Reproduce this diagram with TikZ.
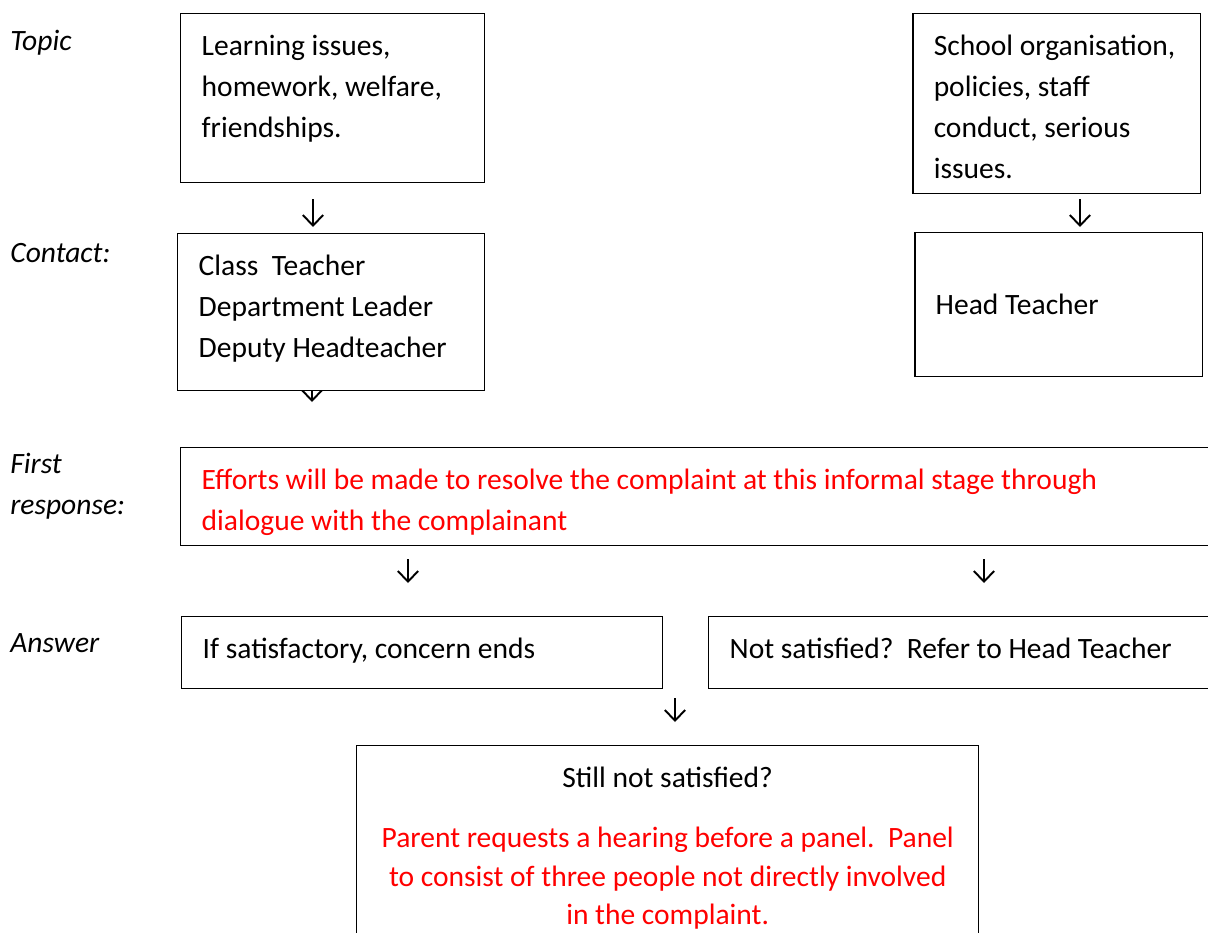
\documentclass[tikz,border=0pt]{standalone}
\usepackage{fontspec}
\setmainfont{Carlito}
\usetikzlibrary{arrows.meta}
\definecolor{stagered}{RGB}{255,0,0}
\newcommand{\bodyfont}{\fontsize{16.8pt}{23.3pt}\selectfont}
\newcommand{\cell}[3]{\parbox[c][#2][t]{#1}{\rule{0pt}{18pt}#3}}
\tikzset{%
	block/.style = {draw, fill=white, line width=0.85pt, anchor=north west,
		inner xsep=0.42cm, inner ysep=0.2cm, font=\bodyfont},
	tag/.style   = {anchor=base west, inner sep=0pt, font=\bodyfont\itshape}, % Row label
	down/.style  = {line width=1.1pt, -{Straight Barb[length=6pt,width=11.5pt]}} % Arrow glyph
}

\begin{document}
\begin{tikzpicture}[x=0.02cm, y=-0.02cm]
			\clip (0,0) rectangle (1208,933);
			% arrows, drawn first so that the boxes cover them
			\coordinate (l1) at (313,199); \coordinate (l2) at (313,227);
			\coordinate (s1) at (1080,199); \coordinate (s2) at (1080,227);
			\coordinate (c1) at (312,374); \coordinate (c2) at (312,402);
			\coordinate (r1) at (408,559); \coordinate (r2) at (408,583);
			\coordinate (q1) at (984,559); \coordinate (q2) at (984,583);
			\coordinate (p1) at (675,698); \coordinate (p2) at (675,722);
			\draw[down] (l1) -- (l2);
			\draw[down] (s1) -- (s2);
			\draw[down] (c1) -- (c2);
			\draw[down] (r1) -- (r2);
			\draw[down] (q1) -- (q2);
			\draw[down] (p1) -- (p2);
			
			\node[tag] (topic) at (10,51) {Topic};
			\node[block] (learn) at (180,13) {\cell{5.24cm}{2.98cm}{Learning issues,\\homework, welfare,\\friendships.}};
			\node[block] (school) at (912,13) {\cell{4.92cm}{3.2cm}{School organisation,\\policies, staff\\conduct, serious\\issues.}};
			
			\node[tag] (contact) at (10,262) {Contact:};
			\node[block] (staff) at (177,233) {\cell{5.30cm}{2.74cm}{Class\ \ Teacher\\Department Leader\\Deputy Headteacher}};
			\node[block] (head) at (914,232) {\parbox[c][2.48cm][c]{4.92cm}{Head Teacher}};
			
			\node[tag, align=left, anchor=north west] (first) at (10,453) {First\\response:};
			\node[block] (resolve) at (180,447) {\cell{20.16cm}{1.56cm}{\color{stagered}Efforts will be made to resolve the complaint at this informal stage through\\dialogue with the complainant}};
			
			\node[tag] (answer) at (10,652) {Answer};
			\node[block] (ends) at (181,616) {\cell{8.78cm}{1.04cm}{If satisfactory, concern ends}};
			\node[block] (refer) at (708,616) {\cell{9.6cm}{1.04cm}{Not satisfied?\ \ Refer to Head Teacher}};
			
			\node[block] (panel) at (356,745) {\cell{11.6cm}{3.9cm}{\centering Still not satisfied?\\[0.42cm]\fontsize{16.8pt}{22.1pt}\selectfont\color{stagered}Parent requests a hearing before a panel.\ \ Panel\\to consist of three people not directly involved\\in the complaint.}};
		\end{tikzpicture}
\end{document}
